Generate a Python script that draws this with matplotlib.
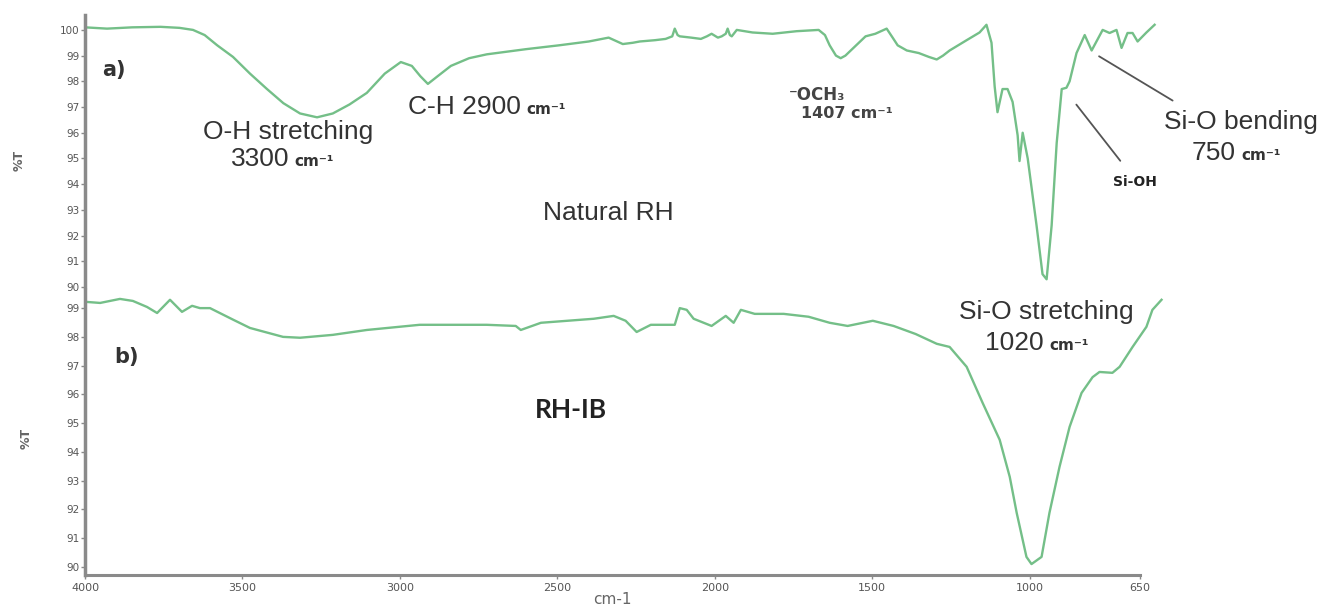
import matplotlib.pyplot as plt

# panel a) Natural RH, wavenumber (cm-1) and %T
wn_a = [4000, 3930, 3850, 3760, 3700, 3657, 3620, 3580, 3530, 3476, 3422, 3370,
        3317, 3263, 3213, 3160, 3105, 3048, 2997, 2962, 2935, 2911, 2880, 2838,
        2780, 2724, 2600, 2495, 2400, 2337, 2310, 2292, 2260, 2238, 2190, 2156,
        2135, 2127, 2118, 2111, 2075, 2044, 2025, 2010, 1990, 1978, 1965, 1959,
        1952, 1946, 1930, 1880, 1816, 1740, 1670, 1650, 1635, 1615, 1600, 1585,
        1568, 1521, 1490, 1454, 1435, 1419, 1390, 1352, 1320, 1295, 1275, 1254,
        1200, 1159, 1137, 1121, 1111, 1102, 1086, 1070, 1054, 1038, 1032, 1022,
        1006, 978, 959, 946, 930, 914, 898, 883, 873, 851, 825, 803, 768, 746,
        724, 708, 689, 673, 657, 629, 603]
t_a = [100.1, 100.05, 100.1, 100.12, 100.08, 100.0, 99.8, 99.4, 98.95, 98.3, 97.7, 97.15,
       96.75, 96.6, 96.75, 97.1, 97.55, 98.3, 98.75, 98.6, 98.2, 97.9, 98.2, 98.6,
       98.9, 99.05, 99.25, 99.4, 99.55, 99.7, 99.55, 99.45, 99.5, 99.55, 99.6, 99.65,
       99.75, 100.05, 99.8, 99.75, 99.7, 99.65, 99.75, 99.85, 99.7, 99.75, 99.85, 100.05,
       99.8, 99.75, 100.0, 99.9, 99.85, 99.95, 100.0, 99.8, 99.4, 99.0, 98.9, 99.0,
       99.2, 99.75, 99.85, 100.05, 99.7, 99.4, 99.2, 99.1, 98.95, 98.85, 99.0, 99.2,
       99.6, 99.9, 100.2, 99.5, 97.8, 96.8, 97.7, 97.7, 97.2, 95.9, 94.9, 96.0,
       95.0, 92.4, 90.5, 90.3, 92.4, 95.6, 97.7, 97.75, 98.0, 99.1, 99.8, 99.2, 100.0, 99.88,
       100.0, 99.3, 99.88, 99.88, 99.55, 99.9, 100.2]

# panel b) RH-IB
wn_b = [4000, 3952, 3889, 3848, 3803, 3771, 3730, 3692, 3660, 3635, 3603, 3530,
        3476, 3371, 3317, 3213, 3105, 2937, 2724, 2632, 2616, 2552, 2384, 2321,
        2283, 2248, 2203, 2127, 2111, 2089, 2067, 2010, 1965, 1940, 1917, 1873,
        1781, 1702, 1635, 1578, 1498, 1432, 1362, 1295, 1254, 1200, 1149, 1095,
        1063, 1041, 1010, 994, 962, 937, 905, 873, 835, 800, 778, 737, 714, 673,
        629, 610, 581]
t_b = [99.22, 99.18, 99.32, 99.25, 99.04, 98.83, 99.29, 98.87, 99.08, 99.0, 99.0, 98.6,
       98.31, 98.0, 97.97, 98.07, 98.24, 98.42, 98.42, 98.38, 98.24, 98.49, 98.63, 98.73,
       98.56, 98.17, 98.42, 98.42, 99.0, 98.94, 98.63, 98.38, 98.73, 98.49, 98.94, 98.8,
       98.8, 98.7, 98.49, 98.38, 98.56, 98.38, 98.1, 97.76, 97.65, 96.96, 95.7, 94.42,
       93.13, 91.88, 90.35, 90.1, 90.35, 91.88, 93.48, 94.87, 96.05, 96.6, 96.78, 96.75, 96.96, 97.65,
       98.35, 98.94, 99.29]

x_ticks = [4000, 3500, 3000, 2500, 2000, 1500, 1000, 650]
y_ticks_a = list(range(90, 101))
y_ticks_b = list(range(90, 100))

W, H = 1339, 608
fig = plt.figure(figsize=(W / 100, H / 100), dpi=100)


def fx(px):
    return px / W


def fy(py):
    return 1 - py / H


green = '#74bf88'
gray = '#8a8a8a'
txt = '#333333'
sans = ['Liberation Sans', 'DejaVu Sans']

ax_a = fig.add_axes([fx(85), fy(287), fx(1165) - fx(85), fy(15) - fy(287)])
ax_b = fig.add_axes([fx(85), fy(575), fx(1165) - fx(85), fy(290) - fy(575)])

ax_a.plot(wn_a, t_a, color=green, lw=1.7)
ax_b.plot(wn_b, t_b, color=green, lw=1.7)

for ax in (ax_a, ax_b):
    ax.set_xlim(4000, 570)
    for s in ('top', 'right'):
        ax.spines[s].set_visible(False)
    ax.spines['left'].set_color(gray)
    ax.spines['left'].set_linewidth(2.5)
    ax.tick_params(axis='both', direction='out', length=3, width=1, color=gray,
                   labelsize=7.5, labelcolor='#555555', pad=1)
    ax.set_facecolor('none')

ax_a.set_ylim(90.08, 100.58)
ax_a.set_yticks(y_ticks_a)
ax_a.spines['bottom'].set_visible(False)
ax_a.set_xticks([])

ax_b.set_ylim(89.72, 99.63)
ax_b.set_yticks(y_ticks_b)
ax_b.set_xticks(x_ticks)
ax_b.spines['bottom'].set_color(gray)
ax_b.spines['bottom'].set_linewidth(2.2)
ax_b.spines['bottom'].set_bounds(650, 4000)
ax_b.tick_params(axis='x', labelsize=8, pad=3)

# axis titles
fig.text(fx(19), fy(160), '%T', rotation=90, ha='center', va='center', fontsize=9,
         weight='bold', color='#666666')
fig.text(fx(26), fy(438), '%T', rotation=90, ha='center', va='center', fontsize=9,
         weight='bold', color='#666666')
fig.text(fx(612), fy(600), 'cm-1', ha='center', va='center', fontsize=11, color='#666666')

# panel labels
fig.text(fx(114), fy(70), 'a)', ha='center', va='center', fontsize=15, weight='bold', color=txt)
fig.text(fx(127), fy(357), 'b)', ha='center', va='center', fontsize=15, weight='bold', color=txt)
fig.text(fx(608), fy(213), 'Natural RH', ha='center', va='center', fontsize=19,
         family=sans, color=txt)
fig.text(fx(571), fy(410), 'RH-IB', ha='center', va='center', fontsize=19,
         weight='bold', family=['Lato', 'DejaVu Sans'], color='#222222')


def band(x, y, num, size=19):
    fig.text(fx(x), fy(y), num, ha='right', va='baseline', fontsize=size,
             family=sans, color=txt)
    fig.text(fx(x + 5), fy(y), 'cm\u207b\u00b9', ha='left', va='baseline', fontsize=11,
             weight='bold', family=['DejaVu Sans'], color=txt)


fig.text(fx(288), fy(132), 'O-H stretching', ha='center', va='center', fontsize=19,
         family=sans, color=txt)
band(289, 166, '3300')
band(521, 114, 'C-H 2900')
fig.text(fx(1241), fy(122), 'Si-O bending', ha='center', va='center', fontsize=19,
         family=sans, color=txt)
band(1236, 160, '750')
fig.text(fx(1046), fy(312), 'Si-O stretching', ha='center', va='center', fontsize=19,
         family=sans, color=txt)
band(1044, 350, '1020')

fig.text(fx(789), fy(95), '\u207bOCH\u2083', ha='left', va='center', fontsize=12,
         weight='bold', family=['DejaVu Sans'], color='#444444')
fig.text(fx(801), fy(114), '1407 cm\u207b\u00b9', ha='left', va='center', fontsize=11.5,
         weight='bold', family=['DejaVu Sans'], color='#444444')
fig.text(fx(1135), fy(182), 'Si-OH', ha='center', va='center', fontsize=10,
         weight='bold', family=['DejaVu Sans'], color='#222222')

# leader lines
ax_a.annotate('', xy=(857, 97.18), xytext=(fx(1122), fy(163)), textcoords='figure fraction',
              arrowprops=dict(arrowstyle='-', color='#555555', lw=1.3))
ax_a.annotate('', xy=(787, 99.03), xytext=(fx(1175), fy(102)), textcoords='figure fraction',
              arrowprops=dict(arrowstyle='-', color='#555555', lw=1.3))

fig.savefig('out.png', dpi=100)
